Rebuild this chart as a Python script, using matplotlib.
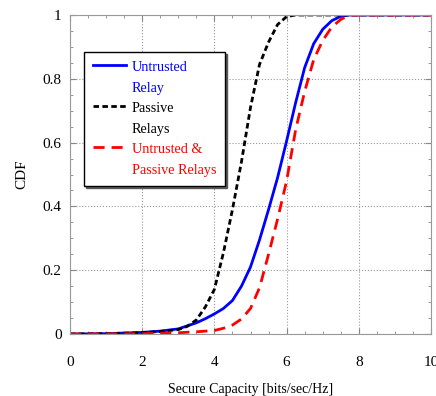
import matplotlib
matplotlib.use("Agg")
import matplotlib.pyplot as plt
import numpy as np
from matplotlib.ticker import MultipleLocator
from matplotlib.legend_handler import HandlerLine2D

# Untrusted relay (blue, solid)
x_untrusted = [0, 1, 2, 2.5, 3, 3.5, 3.75, 4.0, 4.25, 4.5, 4.75, 5.0, 5.25, 5.5, 5.75, 6.0, 6.25, 6.5, 6.75, 7.0, 7.25, 7.5, 7.75, 10]
y_untrusted = [0, 0.001, 0.005, 0.009, 0.016, 0.035, 0.048, 0.063, 0.08, 0.105, 0.15, 0.21, 0.295, 0.39, 0.49, 0.605, 0.725, 0.835, 0.91, 0.955, 0.982, 0.996, 1.0, 1.0]
# Passive relays (black, dotted)
x_passive = [0, 1, 2, 2.5, 3, 3.25, 3.5, 3.75, 4.0, 4.25, 4.5, 4.75, 5.0, 5.25, 5.5, 5.75, 6.0, 6.25, 10]
y_passive = [0, 0.001, 0.004, 0.008, 0.014, 0.024, 0.044, 0.085, 0.14, 0.255, 0.39, 0.54, 0.71, 0.845, 0.915, 0.97, 0.995, 1.0, 1.0]
# Untrusted & passive relays (red, dashed)
x_both = [0, 1, 2, 3, 3.5, 4.0, 4.25, 4.5, 4.75, 5.0, 5.25, 5.5, 5.75, 6.0, 6.25, 6.5, 6.75, 7.0, 7.25, 7.5, 7.75, 10]
y_both = [0, 0.0005, 0.001, 0.004, 0.007, 0.011, 0.018, 0.028, 0.047, 0.08, 0.145, 0.25, 0.36, 0.48, 0.64, 0.76, 0.86, 0.92, 0.962, 0.986, 1.0, 1.0]

labels = ["Untrusted\nRelay", "Passive\nRelays", "Untrusted &\nPassive Relays"]
colors = ["#0000ff", "#000000", "#ff0000"]
x_ticks = [0, 2, 4, 6, 8, 10]
y_ticks = [0, 0.2, 0.4, 0.6, 0.8, 1]
y_ticklabels = ["0", "0.2", "0.4", "0.6", "0.8", "1"]

plt.rcParams['font.family'] = ['Liberation Serif', 'DejaVu Serif']
plt.rcParams['font.size'] = 10

fig = plt.figure(figsize=(4.36, 3.96), dpi=100)
ax = fig.add_axes([70/436, 1-334/396, (431-70)/436, (334-15)/396])

ax.plot(x_untrusted, y_untrusted, color=colors[0], lw=2, ls='-', label=labels[0])
ax.plot(x_passive, y_passive, color=colors[1], lw=2, ls=(0, (2, 1.2)), label=labels[1])
ax.plot(x_both, y_both, color=colors[2], lw=2, ls=(0, (4, 2.5)), label=labels[2])

ax.set_xlim(0, 10)
ax.set_ylim(0, 1)
ax.set_xticks(x_ticks)
ax.set_yticks(y_ticks)
ax.set_yticklabels(y_ticklabels)
ax.xaxis.set_minor_locator(MultipleLocator(0.5))
ax.yaxis.set_minor_locator(MultipleLocator(0.05))
ax.tick_params(which='both', direction='in', top=True, right=True, colors='#888888', labelcolor='black', labelsize=11)
ax.tick_params(which='major', length=4)
ax.tick_params(which='minor', length=2)
ax.tick_params(axis='x', pad=16)
ax.tick_params(axis='y', pad=6)
ax.grid(True, which='major', ls=':', color='#999999', lw=0.8)
for s in ax.spines.values():
    s.set_color('#999999')

ax.set_xlabel("Secure Capacity [bits/sec/Hz]", fontsize=10, labelpad=10)
ax.set_ylabel("CDF", fontsize=11, labelpad=10)


class UpHandler(HandlerLine2D):
    def __init__(self, shift, **kw):
        super().__init__(**kw)
        self.shift = shift

    def create_artists(self, legend, orig_handle, xdescent, ydescent, width, height, fontsize, trans):
        arts = super().create_artists(legend, orig_handle, xdescent, ydescent, width, height, fontsize, trans)
        for a in arts:
            a.set_ydata(np.asarray(a.get_ydata(), dtype=float) + self.shift)
        return arts


handles = ax.get_lines()
leg = ax.legend(handles=handles, labels=labels, loc='upper left', bbox_to_anchor=(0.039, 0.884),
                borderaxespad=0, frameon=True, fancybox=False,
                edgecolor='black', handlelength=2.3, handletextpad=0.4, borderpad=0.65,
                labelspacing=0.52, fontsize=10.2,
                shadow={'color': '0.35', 'alpha': 1.0, 'ox': 1.5, 'oy': -1.5},
                handler_map={h: UpHandler(9.5) for h in handles})
leg.get_frame().set_linewidth(1.0)
for t, c in zip(leg.get_texts(), colors):
    t.set_color(c)
    t.set_linespacing(1.76)

fig.savefig("out.png", dpi=100)
